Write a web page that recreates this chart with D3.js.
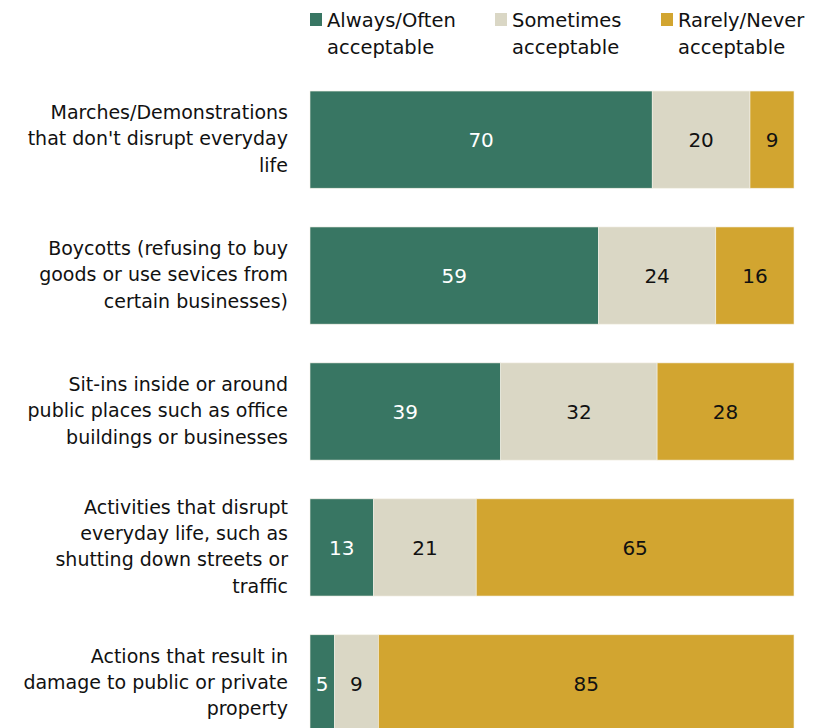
<!DOCTYPE html>
<html>
<head>
<meta charset="utf-8">
<script src="https://cdn.jsdelivr.net/npm/d3@7"></script>
<style>
  html, body { margin: 0; padding: 0; background: #fff; }
  svg { display: block; font-family: "DejaVu Sans", "Liberation Sans", Arial, sans-serif; }
</style>
</head>
<body>
<svg id="chart" width="826" height="728"></svg>
<script>
// Protest tactics and how acceptable people find them (%)
const categories = [
  ["Marches/Demonstrations", "that don't disrupt everyday", "life"],
  ["Boycotts (refusing to buy", "goods or use sevices from", "certain businesses)"],
  ["Sit-ins inside or around", "public places such as office", "buildings or businesses"],
  ["Activities that disrupt", "everyday life, such as", "shutting down streets or", "traffic"],
  ["Actions that result in", "damage to public or private", "property"]
];
const seriesNames = ["Always/Often acceptable", "Sometimes acceptable", "Rarely/Never acceptable"];
const legendLines = [["Always/Often", "acceptable"], ["Sometimes", "acceptable"], ["Rarely/Never", "acceptable"]];
const alwaysOften = [70, 59, 39, 13, 5];
const sometimes = [20, 24, 32, 21, 9];
const rarelyNever = [9, 16, 28, 65, 85];

const colors = ["#387663", "#dad7c5", "#d2a530"];
const textColors = ["#ffffff", "#111111", "#111111"];

const svg = d3.select("#chart");
const left = 310, right = 794;
const labelSize = 19;
const valueSize = 20;
const legendSize = 19.5;

const rows = categories.map((c, i) => ({
  idx: i,
  lines: c,
  vals: [alwaysOften[i], sometimes[i], rarelyNever[i]]
}));

const x = d3.scaleLinear().domain([0, 99]).range([left, right]);
const y = d3.scaleBand().domain(d3.range(rows.length)).range([72, 751]).paddingInner(0.285).paddingOuter(0.14);

// Stack the three response groups
const stackData = rows.map(r => ({ idx: r.idx, s0: r.vals[0], s1: r.vals[1], s2: r.vals[2] }));
const stacked = d3.stack().keys(["s0", "s1", "s2"])(stackData);

const g = svg.append("g");
stacked.forEach((layer, k) => {
  const lg = g.append("g");
  lg.selectAll("rect").data(layer).join("rect")
    .attr("x", d => x(d[0]))
    .attr("y", d => y(d.data.idx))
    .attr("width", d => x(d[1]) - x(d[0]))
    .attr("height", y.bandwidth())
    .attr("fill", colors[k])
    .attr("stroke", "#f4f1e6")
    .attr("stroke-width", 0.6);
  lg.selectAll("text").data(layer).join("text")
    .attr("x", d => (x(d[0]) + x(d[1])) / 2)
    .attr("y", d => y(d.data.idx) + y.bandwidth() / 2)
    .attr("dy", "0.36em")
    .attr("text-anchor", "middle")
    .attr("font-size", valueSize)
    .attr("fill", textColors[k])
    .text(d => d[1] - d[0]);
});

// Category labels, right-aligned beside the bars
const lineH = 26.3;
rows.forEach(r => {
  const cy = y(r.idx) + y.bandwidth() / 2;
  const n = r.lines.length;
  const t = svg.append("text")
    .attr("text-anchor", "end")
    .attr("font-size", labelSize)
    .attr("fill", "#111");
  r.lines.forEach((ln, j) => {
    t.append("tspan")
      .attr("x", 288)
      .attr("y", cy + (j - (n - 1) / 2) * lineH)
      .attr("dy", "0.3em")
      .text(ln);
  });
});

// Legend
const legendX = [310, 495, 661];
legendLines.forEach((lines, k) => {
  svg.append("rect")
    .attr("x", legendX[k]).attr("y", 13)
    .attr("width", 12).attr("height", 13)
    .attr("fill", colors[k]);
  const t = svg.append("text").attr("font-size", legendSize).attr("fill", "#111");
  lines.forEach((ln, j) => {
    t.append("tspan").attr("x", legendX[k] + 17).attr("y", 27 + j * 27).text(ln);
  });
});
</script>
</body>
</html>
